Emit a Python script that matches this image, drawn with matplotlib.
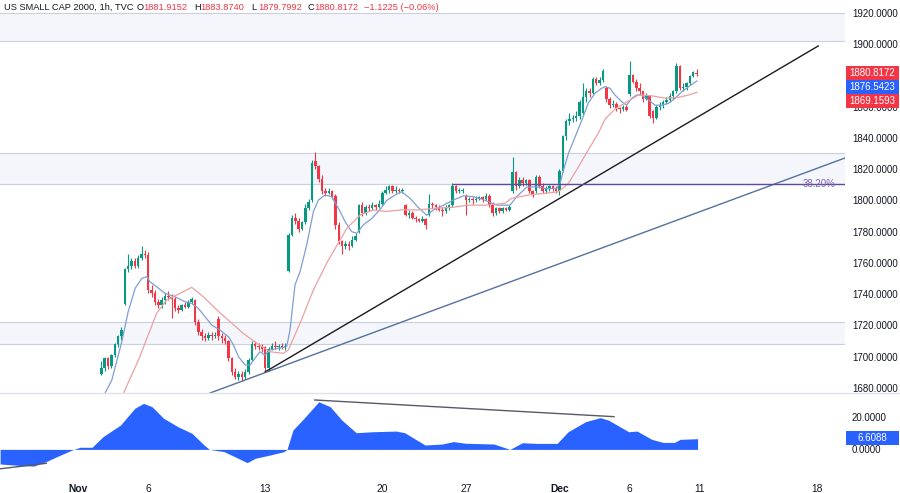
import numpy as np
import matplotlib.pyplot as plt
from matplotlib.patches import Rectangle
from matplotlib.lines import Line2D

plt.rcParams['font.family'] = ['Liberation Sans', 'DejaVu Sans']

# hourly bars, index 0 = first bar of Nov 1 (7 bars a day, Nov 24 has 4)
first_bar = 7
opens = [1689, 1693, 1699, 1694, 1701, 1708, 1713,
         1734, 1756, 1758, 1761, 1758, 1763, 1766,
         1765, 1743, 1741, 1735, 1733, 1736, 1739,
         1738, 1737, 1731, 1730, 1733, 1732, 1735,
         1736, 1722, 1716, 1713, 1712, 1714, 1713,
         1724, 1713, 1712, 1710, 1699, 1690, 1687,
         1689, 1687, 1690, 1698, 1708, 1707, 1706,
         1706, 1693, 1705, 1707, 1706, 1707, 1706,
         1755, 1778, 1789, 1787, 1782, 1786, 1795,
         1800, 1825, 1822, 1814, 1806, 1805, 1806,
         1803, 1784, 1774, 1771, 1772, 1771, 1775,
         1780, 1797, 1792, 1796, 1795, 1797, 1796,
         1798, 1805, 1807, 1809, 1806, 1807, 1806,
         1797, 1791, 1792, 1789, 1788, 1787, 1788,
         1791, 1798, 1797, 1796, 1794, 1793, 1795,
         1797, 1809, 1806, 1806,
         1803, 1800, 1801, 1800, 1801, 1802, 1801,
         1803, 1797, 1792, 1795, 1793, 1795, 1794,
         1806, 1818, 1809, 1813, 1811, 1813, 1806,
         1806, 1815, 1809, 1806, 1808, 1809, 1808,
         1806, 1819, 1841, 1851, 1852, 1853, 1854,
         1856, 1866, 1870, 1869, 1878, 1875, 1877,
         1872, 1865, 1861, 1862, 1859, 1858.5, 1860,
         1868, 1880, 1876, 1872, 1870, 1865, 1867,
         1857, 1853, 1860, 1861, 1863, 1864, 1867,
         1870, 1886, 1872, 1872.5, 1875, 1879.5, 1881.9]
highs = [1697, 1700, 1700, 1702, 1709, 1714, 1719,
         1757, 1766, 1763, 1763, 1765, 1771, 1768,
         1767, 1746, 1743, 1737, 1738, 1741, 1742,
         1740, 1738, 1733, 1734, 1735, 1736, 1738,
         1737, 1724, 1718, 1715, 1716, 1716, 1716,
         1726, 1715, 1714, 1711, 1700, 1693, 1691,
         1691, 1692, 1699, 1710, 1710, 1709, 1708,
         1707, 1706, 1709, 1710, 1708, 1709, 1709,
         1779, 1791, 1792, 1789, 1787, 1798, 1801,
         1826, 1831, 1823, 1816, 1808, 1808, 1807,
         1804, 1786, 1775, 1774, 1774, 1777, 1779,
         1798, 1799, 1797, 1798, 1799, 1798, 1800,
         1806, 1809, 1810, 1810, 1809, 1808, 1808,
         1798, 1794, 1793, 1790, 1789, 1790, 1789,
         1804, 1799, 1798, 1797, 1796, 1797, 1798,
         1811, 1810, 1808, 1808,
         1804, 1802, 1802, 1803, 1803, 1803, 1805,
         1804, 1799, 1796, 1796, 1796, 1796, 1797,
         1828, 1819, 1815, 1815, 1814, 1814, 1807,
         1816, 1816, 1811, 1809, 1810, 1810, 1809,
         1820, 1842, 1852, 1856, 1855, 1857, 1864,
         1875, 1872, 1872, 1879, 1879, 1879, 1884,
         1873, 1866, 1864, 1863, 1860, 1861, 1861,
         1889, 1881, 1878, 1875, 1870, 1869, 1867,
         1858, 1861, 1863, 1864, 1866, 1869, 1871,
         1888, 1887, 1875, 1876, 1880, 1883, 1883.9]
lows = [1688, 1691, 1692, 1693, 1700, 1706, 1711,
        1733, 1754, 1756, 1757, 1757, 1762, 1763,
        1741, 1738, 1733, 1731, 1731, 1734, 1736,
        1725, 1729, 1728, 1729, 1731, 1731, 1734,
        1720, 1714, 1711, 1710, 1711, 1711, 1712,
        1711, 1709, 1708, 1697, 1688, 1686, 1685,
        1684.5, 1686, 1689, 1697, 1705, 1704, 1703,
        1690, 1691, 1704, 1705, 1704, 1705, 1704,
        1754, 1777, 1785, 1780, 1781, 1785, 1794,
        1799, 1820, 1812, 1804, 1803, 1804, 1801,
        1782, 1772, 1766, 1769, 1768, 1770, 1774,
        1779, 1790, 1791, 1793, 1794, 1794, 1795,
        1797, 1804, 1805, 1805, 1805, 1805, 1805,
        1790, 1789, 1788, 1786, 1786, 1786, 1782,
        1790, 1795, 1794, 1793, 1790, 1792, 1794,
        1796, 1805, 1805, 1805,
        1791, 1799, 1798, 1799, 1800, 1799, 1800,
        1796, 1790, 1791, 1792, 1792, 1793, 1793,
        1805, 1807, 1808, 1809, 1810, 1805, 1802,
        1805, 1808, 1805, 1805, 1806, 1806, 1805,
        1803.5, 1818, 1839, 1848, 1850, 1851, 1852,
        1855, 1863, 1866, 1868, 1874, 1874, 1876,
        1863, 1859, 1860, 1857, 1856, 1857, 1857,
        1867, 1875, 1870, 1868, 1863, 1864, 1853,
        1849.5, 1852, 1858, 1859, 1862, 1863, 1865,
        1869, 1871, 1870, 1871, 1874, 1879, 1879.8]
closes = [1693, 1699, 1694, 1701, 1708, 1713, 1717,
          1756, 1758, 1761, 1758, 1763, 1766, 1765,
          1743, 1741, 1735, 1733, 1736, 1739, 1738,
          1737, 1731, 1730, 1733, 1732, 1735, 1737,
          1722, 1716, 1713, 1712, 1714, 1713, 1714,
          1713, 1712, 1710, 1699, 1690, 1687, 1689,
          1687, 1690, 1698, 1708, 1707, 1706, 1705,
          1693, 1705, 1707, 1706, 1707, 1706, 1707,
          1778, 1789, 1787, 1782, 1786, 1795, 1799,
          1824, 1822, 1814, 1806, 1805, 1806, 1803,
          1784, 1774, 1771, 1772, 1771, 1775, 1777,
          1797, 1792, 1796, 1795, 1797, 1796, 1798,
          1805, 1807, 1809, 1806, 1807, 1806, 1807,
          1791, 1792, 1789, 1788, 1787, 1788, 1784,
          1798, 1797, 1796, 1794, 1793, 1795, 1797,
          1809, 1806, 1806.5, 1807,
          1800, 1801, 1800, 1801, 1802, 1801, 1803,
          1797, 1792, 1795, 1793, 1795, 1794, 1796,
          1818, 1809, 1813, 1811, 1813, 1806, 1804,
          1815, 1809, 1806, 1808, 1809, 1808, 1806,
          1819, 1841, 1851, 1852, 1853, 1854, 1863,
          1866, 1870, 1869, 1878, 1875, 1877, 1883,
          1865, 1861, 1862, 1859, 1858.5, 1860, 1858,
          1880, 1876, 1872, 1870, 1865, 1867, 1854,
          1853, 1860, 1861, 1863, 1864, 1867, 1870,
          1886, 1872, 1872.5, 1875, 1879.5, 1882, 1880.8]

# moving averages (bar index, value)
fast_x = [8.1, 10.1, 13.1, 15.0, 17.1, 19.1, 20.6, 21.5, 23.5, 26.0, 29.0, 32.0, 34.0, 36.0, 38.0,
          40.0, 42.5, 45.0, 46.5, 48.0, 50.0, 51.5, 52.9, 54.4, 55.9, 57.4, 59.9, 62.4, 63.4, 64.9,
          66.4, 68.4, 70.4, 71.9, 73.9, 75.9, 77.9, 79.9, 81.9, 83.4, 85.3, 87.9, 90.3, 92.3, 94.8,
          96.8, 99.3, 101.8, 104.3, 106.3, 109.3, 112.3, 115.3, 118.3, 121.3, 125.2, 129.2, 131.2,
          134.2, 137.2, 140.2, 143.2, 144.2, 145.2, 146.7, 148.7, 150.7, 152.6, 154.6, 156.6, 157.6,
          159.1, 160.6, 162.6, 164.1, 165.6, 167.1, 168.6, 170.6, 172.6, 174.6, 176.6, 178.6, 180.6,
          182.6, 185.1]
fast_v = [1676.8, 1685, 1709.6, 1728.8, 1743.8, 1750.2, 1751.2, 1748, 1744.8, 1740.6, 1738.4, 1735.2,
          1734.2, 1731, 1725.6, 1720.3, 1717, 1712.8, 1707.5, 1700, 1694.7, 1694.7, 1699, 1703.2, 1701,
          1704.3, 1705.4, 1706.4, 1717, 1746, 1754.4, 1771.5, 1792.8, 1800.3, 1803.5, 1802.4, 1795,
          1786.4, 1780, 1779, 1784.3, 1788.6, 1794, 1800, 1803.5, 1805.6, 1801.4, 1795.5, 1790.5, 1794,
          1797, 1800.3, 1803, 1802.4, 1800.5, 1797, 1797, 1802.4, 1808.5, 1808.8, 1807.5, 1807.8, 1811,
          1819.5, 1830.2, 1840.8, 1851.5, 1862.2, 1868.6, 1871.8, 1872.8, 1871.8, 1867.5, 1863.2, 1861,
          1865.4, 1867.5, 1867.5, 1864.3, 1861, 1861, 1862.2, 1865.4, 1869.6, 1872.8, 1876.5]
slow_x = [13.6, 18.5, 23.5, 26.5, 29.5, 34.0, 37.5, 41.5, 45.5, 49.4, 53.5, 57.4, 61.4, 62.9, 66.4,
          70.4, 74.4, 80.4, 84.4, 88.3, 92.3, 96.8, 101.8, 106.8, 111.8, 116.8, 121.7, 127.7, 129.7,
          134.7, 139.7, 143.7, 146.7, 149.7, 152.6, 155.6, 157.6, 160.6, 164.1, 167.6, 171.6, 175.6,
          179.6, 182.6, 185.1]
slow_v = [1676.6, 1700, 1727.8, 1736.3, 1739.5, 1744.4, 1738.4, 1730, 1722.4, 1715, 1708.6, 1703.2,
          1702.2, 1704.3, 1721.4, 1742.7, 1760, 1782.2, 1790.7, 1793.9, 1793, 1794, 1794, 1795, 1795.6,
          1797, 1797, 1798.2, 1801.4, 1803.5, 1804.6, 1805.6, 1811, 1821.6, 1832.3, 1843, 1852, 1858.5,
          1863, 1867.5, 1867, 1865.5, 1866, 1867.5, 1869.2]

# lower pane oscillator
osc_x = [-23.3, -17, -13.2, -9.6, -6.3, -1.8, 0.6, 4.2, 7.5, 12.7, 17, 19.6, 22.1, 25.6, 29.9, 34.1,
         37.7, 39.3, 43.7, 47.9, 50.6, 53, 57.4, 61.6, 62.5, 64.3, 67.6, 72, 75.4, 78.9, 83.2, 88.2,
         95.1, 97.7, 103.8, 108.9, 112.3, 115.8, 124.4, 129.2, 132.9, 137.2, 143.3, 146.6, 151.8,
         156.2, 158.7, 164.7, 167.2, 171.6, 175, 178.4, 180.1, 182.8, 185.3]
osc_v = [-9.0, -10.0, -10.3, -7.6, -4.5, -0.4, 1.3, 1.3, 7.9, 15, 25.4, 28.4, 26.4, 19.2, 14, 9.9,
         2.7, 0, -1.4, -5.5, -8.2, -5.5, -3.5, -1.4, 0, 12, 19.2, 29.4, 26.4, 18.1, 10.3, 10.9,
         11.3, 10.3, 2.7, 3.3, 4.8, 3.8, 3.3, 0, 4.1, 3.7, 3.7, 10.9, 17.1,
         19.6, 18, 10.9, 11.3, 6.2, 4.3, 4.3, 6.2, 6.4, 6.6]

zones = [(1901.8, 1920.3), (1810.75, 1830.2), (1708, 1722.2)]
trend_black = ([55.9, 221.4], [1690.2, 1898.9])
trend_blue = ([39.5, 229.4], [1676.8, 1827.2])
fib_level = 1810.4
osc_trend = ([70.8, 160.3], [30.5, 20.2])
osc_trend2 = ([-23.3, -9.5], [-12.0, -8.6])

tick_pos = [0, 21, 56, 91, 116, 144, 165, 186, 221]
tick_lab = ['Nov', '6', '13', '20', '27', 'Dec', '6', '11', '18']

GREEN = '#089981'
RED = '#f23645'
TXT = '#131722'
FS = 7.0

fig = plt.figure(figsize=(9, 4.93), dpi=100)
ax = fig.add_axes([0, 100 / 493, 845 / 900, 393 / 493])
osc = fig.add_axes([0, 19 / 493, 845 / 900, 80 / 493], sharex=ax)

for lo, hi in zones:
    ax.axhspan(lo, hi, color='#f4f6fb', lw=0, zorder=0)
    ax.axhline(lo, color='#c9d0de', lw=0.8, zorder=1)
    ax.axhline(hi, color='#c9d0de', lw=0.8, zorder=1)

xb = np.arange(first_bar, first_bar + len(closes))
o = np.array(opens)
c = np.array(closes)
up = c >= o
cols = np.where(up, GREEN, RED)
ax.vlines(xb, lows, highs, colors=cols, lw=0.8, zorder=3)
body = np.maximum(np.abs(c - o), 0.4)
ax.bar(xb, body, bottom=np.minimum(o, c), width=0.75, color=cols, lw=0, zorder=4)

ax.plot(fast_x, fast_v, color='#7f9ed4', lw=0.9, zorder=5)
ax.plot(slow_x, slow_v, color='#eca0a2', lw=0.9, zorder=5)

ax.plot(*trend_black, color='#1b1b1f', lw=1, zorder=6)
ax.plot(*trend_blue, color='#53719f', lw=1, zorder=6)
ax.plot([112.1, 229.4], [fib_level, fib_level], color='#5e4c98', lw=1, zorder=6)
ax.text(216.6, fib_level + 0.3, '38.20%', color='#7e68b5', fontsize=FS, va='center', ha='left', zorder=7)

ax.set_xlim(-23.33, 229.4)
ax.set_ylim(1676.8, 1928.3)
ax.yaxis.tick_right()
ax.set_yticks(np.arange(1680, 1921, 20))
ax.set_yticklabels(['%.4f' % v for v in np.arange(1680, 1921, 20)])
ax.tick_params(axis='y', length=0, pad=5, labelsize=FS, labelcolor=TXT)
ax.tick_params(axis='x', length=0, labelbottom=False)
for s in ax.spines.values():
    s.set_visible(False)

osc.fill_between(osc_x, osc_v, 0, color='#2962ff', lw=0)
osc.plot(*osc_trend, color='#555a66', lw=1)
osc.plot(*osc_trend2, color='#555a66', lw=1)
osc.set_ylim(-15.2, 34.2)
osc.yaxis.tick_right()
osc.set_yticks([0, 20])
osc.set_yticklabels(['0.0000', '20.0000'])
osc.tick_params(axis='y', length=0, pad=5, labelsize=FS, labelcolor=TXT)
osc.set_xticks(tick_pos)
osc.set_xticklabels(tick_lab)
osc.tick_params(axis='x', length=0, pad=7, labelsize=7.4, labelcolor=TXT)
for t in osc.get_xticklabels():
    if t.get_text() in ('Nov', 'Dec'):
        t.set_fontweight('bold')
for s in osc.spines.values():
    s.set_visible(False)

fig.add_artist(Line2D([0, 1], [100 / 493, 100 / 493], color='#e0e3eb', lw=1))

# last value boxes on the scales
boxes = [(72.5, '1880.8172', RED), (86.5, '1876.5423', '#2962ff'), (100.5, '1869.1593', RED),
         (438, '6.6088', '#2962ff')]
for yc, txt, col in boxes:
    fig.add_artist(Rectangle((846 / 900, (493 - yc - 7) / 493), 53 / 900, 14 / 493,
                             transform=fig.transFigure, color=col, lw=0))
    fig.text(872.5 / 900, 1 - yc / 493, txt, color='white', fontsize=FS, ha='center', va='center')

# header line
ty = 1 - 7.5 / 493
HS = 6.7
fig.text(4 / 900, ty, 'US SMALL CAP 2000, 1h, TVC', color=TXT, fontsize=HS, va='center')
parts = [(136.5, 'O', '1881.9152'), (194, 'H', '1883.8740'), (251.5, 'L', '1879.7992'), (307.5, 'C', '1880.8172')]
for xp, k, v in parts:
    fig.text(xp / 900, ty, k, color=TXT, fontsize=HS, va='center')
    fig.text((xp + 6.3) / 900, ty, v, color=RED, fontsize=HS, va='center')
fig.text(363.5 / 900, ty, '\u22121.1225 (\u22120.06%)', color=RED, fontsize=HS, va='center')

fig.savefig('out.png', dpi=100)
